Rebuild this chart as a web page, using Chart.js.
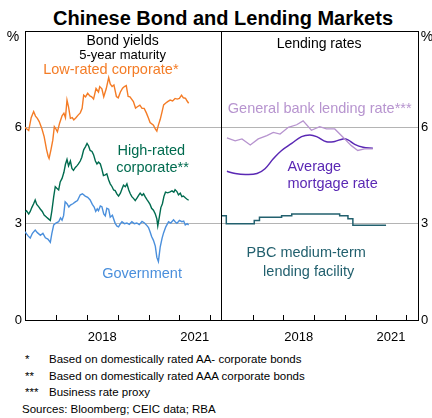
<!DOCTYPE html>
<html>
<head>
<meta charset="utf-8">
<script src="https://cdn.jsdelivr.net/npm/chart.js@4.4.1/dist/chart.umd.min.js"></script>
<style>
  html, body { margin: 0; padding: 0; background: #fff; overflow: hidden; }
  body { width: 432px; height: 418px; position: relative; font-family: "Liberation Sans", Arial, sans-serif; }
  #title { position: absolute; left: 14px; width: 418px; top: 8px; line-height: 20px;
           text-align: center; font-weight: bold; font-size: 20px; color: #000; }
  #left { position: absolute; left: 0; top: 0; }
  #right { position: absolute; left: 222px; top: 0; }
  #notes { position: absolute; left: 22px; top: 351px; font-size: 11.5px; color: #000; }
  #notes div { height: 16.6px; line-height: 16px; white-space: nowrap; }
  #notes span.mark { display: inline-block; width: 27px; padding-left: 3px; box-sizing: border-box; }
</style>
</head>
<body>
<div id="title">Chinese Bond and Lending Markets</div>
<canvas id="left" width="222" height="345"></canvas>
<canvas id="right" width="210" height="345"></canvas>
<div id="notes">
  <div><span class="mark">*</span>Based on domestically rated AA- corporate bonds</div>
  <div><span class="mark">**</span>Based on domestically rated AAA corporate bonds</div>
  <div><span class="mark">***</span>Business rate proxy</div>
  <div>Sources: Bloomberg; CEIC data; RBA</div>
</div>
<script>
// ---- data (decimal years, per cent) ----
const lowRatedDates = [2016.00, 2016.06, 2016.12, 2016.20, 2016.28, 2016.34, 2016.40, 2016.46, 2016.55, 2016.62,
  2016.70, 2016.75, 2016.78, 2016.84, 2016.90, 2016.95, 2017.00, 2017.05, 2017.12, 2017.20,
  2017.26, 2017.31, 2017.36, 2017.41, 2017.47, 2017.53, 2017.58, 2017.65, 2017.72, 2017.79,
  2017.85, 2017.90, 2017.96, 2018.03, 2018.10, 2018.16, 2018.22, 2018.30, 2018.38, 2018.42,
  2018.49, 2018.55, 2018.63, 2018.71, 2018.76, 2018.82, 2018.88, 2018.96, 2019.02, 2019.09,
  2019.16, 2019.22, 2019.28, 2019.34, 2019.40, 2019.51, 2019.58, 2019.64, 2019.72, 2019.79,
  2019.86, 2019.93, 2020.00, 2020.05, 2020.16, 2020.22, 2020.27, 2020.32, 2020.38, 2020.44,
  2020.49, 2020.55, 2020.62, 2020.70, 2020.78, 2020.86, 2020.93, 2021.00, 2021.07, 2021.13,
  2021.20, 2021.25, 2021.30];
const lowRatedYields = [6.00, 5.95, 5.90, 6.30, 6.49, 6.35, 6.28, 6.18, 5.95, 5.71,
  5.30, 5.10, 5.03, 5.30, 5.60, 6.02, 5.95, 5.86, 6.13, 6.36,
  6.44, 6.30, 6.85, 6.64, 6.28, 6.30, 6.23, 6.30, 6.38, 6.45,
  6.59, 7.00, 6.95, 7.06, 6.98, 6.95, 6.88, 7.21, 7.10, 7.27,
  7.20, 6.95, 7.20, 7.55, 7.35, 7.27, 7.32, 6.96, 6.92, 7.10,
  7.22, 7.27, 7.30, 6.96, 6.95, 6.80, 6.60, 6.64, 6.69, 6.59,
  6.59, 6.45, 6.28, 6.15, 6.07, 5.95, 5.88, 6.07, 6.25, 6.49,
  6.70, 6.75, 6.80, 6.85, 6.82, 6.90, 6.88, 6.90, 7.00, 6.92,
  6.90, 6.82, 6.75];

const highRatedDates = [2016.00, 2016.05, 2016.12, 2016.17, 2016.22, 2016.28, 2016.33, 2016.38, 2016.44, 2016.50,
  2016.56, 2016.62, 2016.70, 2016.76, 2016.82, 2016.87, 2016.93, 2016.98, 2017.03, 2017.09,
  2017.14, 2017.20, 2017.26, 2017.31, 2017.36, 2017.41, 2017.47, 2017.52, 2017.57, 2017.63,
  2017.68, 2017.73, 2017.79, 2017.84, 2017.90, 2017.96, 2018.01, 2018.06, 2018.11, 2018.17,
  2018.22, 2018.28, 2018.33, 2018.38, 2018.44, 2018.49, 2018.54, 2018.60, 2018.65, 2018.71,
  2018.76, 2018.82, 2018.87, 2018.92, 2018.98, 2019.03, 2019.09, 2019.14, 2019.19, 2019.25,
  2019.30, 2019.36, 2019.41, 2019.46, 2019.52, 2019.57, 2019.63, 2019.68, 2019.73, 2019.79,
  2019.84, 2019.89, 2019.95, 2020.00, 2020.05, 2020.10, 2020.16, 2020.22, 2020.27, 2020.30,
  2020.35, 2020.40, 2020.45, 2020.50, 2020.55, 2020.62, 2020.70, 2020.76, 2020.82, 2020.86,
  2020.92, 2020.97, 2021.03, 2021.08, 2021.13, 2021.20, 2021.25, 2021.30];
const highRatedYields = [3.36, 3.40, 3.30, 3.38, 3.50, 3.62, 3.74, 3.60, 3.53, 3.45,
  3.38, 3.27, 3.20, 3.15, 3.10, 3.40, 3.84, 4.15, 4.10, 4.05,
  4.30, 4.41, 4.60, 4.85, 5.00, 4.80, 4.95, 4.72, 4.66, 4.75,
  4.80, 4.86, 4.95, 5.07, 5.30, 5.40, 5.50, 5.42, 5.28, 5.25,
  5.15, 4.95, 4.86, 4.92, 4.86, 4.70, 4.50, 4.52, 4.55, 4.36,
  4.24, 4.15, 4.05, 4.03, 3.92, 3.86, 3.95, 4.08, 4.20, 4.15,
  4.24, 4.05, 3.93, 3.84, 3.78, 3.72, 3.80, 3.88, 3.95, 3.88,
  3.93, 3.84, 3.75, 3.68, 3.60, 3.48, 3.42, 3.30, 3.15, 2.93,
  3.20, 3.50, 3.62, 3.85, 3.98, 3.96, 3.99, 4.02, 3.98, 4.06,
  4.00, 3.90, 3.95, 3.84, 3.86, 3.80, 3.76, 3.73];

const govDates = [2016.00, 2016.05, 2016.10, 2016.17, 2016.24, 2016.33, 2016.40, 2016.50, 2016.58, 2016.66,
  2016.74, 2016.82, 2016.87, 2016.93, 2017.00, 2017.09, 2017.15, 2017.20, 2017.25, 2017.30,
  2017.36, 2017.42, 2017.47, 2017.55, 2017.63, 2017.70, 2017.79, 2017.86, 2017.95, 2018.03,
  2018.11, 2018.18, 2018.24, 2018.29, 2018.34, 2018.38, 2018.44, 2018.49, 2018.55, 2018.60,
  2018.65, 2018.71, 2018.76, 2018.83, 2018.92, 2018.98, 2019.03, 2019.09, 2019.14, 2019.22,
  2019.30, 2019.38, 2019.46, 2019.54, 2019.62, 2019.70, 2019.79, 2019.87, 2019.95, 2020.00,
  2020.05, 2020.10, 2020.16, 2020.22, 2020.27, 2020.32, 2020.35, 2020.38, 2020.44, 2020.49,
  2020.56, 2020.65, 2020.72, 2020.81, 2020.87, 2020.92, 2021.00, 2021.08, 2021.14, 2021.19,
  2021.25, 2021.30];
const govYields = [2.75, 2.68, 2.62, 2.55, 2.70, 2.80, 2.72, 2.64, 2.70, 2.56,
  2.52, 2.42, 2.70, 2.96, 3.02, 3.06, 3.18, 3.11, 3.25, 3.68,
  3.62, 3.52, 3.58, 3.62, 3.68, 3.72, 3.90, 3.93, 3.86, 3.82,
  3.74, 3.60, 3.52, 3.38, 3.46, 3.40, 3.55, 3.53, 3.30, 3.24,
  3.48, 3.45, 3.20, 3.26, 3.01, 2.92, 2.90, 3.00, 3.06, 3.00,
  3.02, 2.98, 3.06, 3.00, 3.02, 2.97, 3.07, 3.02, 2.94, 2.88,
  2.75, 2.60, 2.48, 2.30, 1.95, 1.82, 2.05, 2.28, 2.55, 2.72,
  2.90, 3.06, 3.02, 3.12, 3.05, 3.01, 3.10, 3.06, 3.08, 2.96,
  3.00, 2.96];

const bankLendDates = [2016.16, 2016.43, 2016.65, 2016.92, 2017.18, 2017.46, 2017.67, 2017.89, 2018.16, 2018.43,
  2018.64, 2018.91, 2019.18, 2019.40, 2019.67, 2019.94, 2020.21, 2020.42, 2020.64, 2020.91];
const bankLendRates = [5.67, 5.58, 5.64, 5.45, 5.64, 5.74, 5.84, 5.79, 6.00, 6.08,
  6.20, 5.91, 6.02, 5.95, 5.95, 5.69, 5.43, 5.28, 5.33, 5.33];

const mortgageDates = [2016.16, 2016.43, 2016.76, 2017.14, 2017.40, 2017.67, 2017.94, 2018.27, 2018.59, 2018.86,
  2019.08, 2019.40, 2019.67, 2019.94, 2020.10, 2020.32, 2020.59, 2020.91];
const mortgageRates = [4.63, 4.56, 4.53, 4.56, 4.71, 5.02, 5.28, 5.50, 5.71, 5.76,
  5.71, 5.55, 5.56, 5.64, 5.61, 5.47, 5.38, 5.35];

const mlfDates = [2016.00, 2016.14, 2017.05, 2017.22, 2017.94, 2018.27, 2019.83, 2020.10, 2020.26, 2021.34];
const mlfRates = [3.25, 3.00, 3.10, 3.20, 3.25, 3.30, 3.25, 3.15, 2.95, 2.95];

const yearTicks = [2017, 2018, 2019, 2020, 2021, 2022];
const yearLabels = [2018, 2021];
const yTicks = [0, 3, 6, 9];

// ---- style ----
const FONT = '"Liberation Sans", Arial, sans-serif';
const ORANGE = '#f47c26';
const GREEN = '#006b4f';
const BLUE = '#4a8fdc';
const LILAC = '#b794cf';
const PURPLE = '#5a28b4';
const TEAL = '#22606e';
const GRID = '#b4b4b4';

Chart.defaults.font.family = FONT;
Chart.defaults.color = '#000';

const toPoints = (xs, ys) => xs.map((x, i) => ({ x, y: ys[i] }));

// frame, inward year ticks, "%" and text labels placed in data coordinates
const panelDecor = {
  id: 'panelDecor',
  afterDraw(chart, args, opts) {
    const { ctx, chartArea: a, scales: { x, y } } = chart;
    ctx.save();
    ctx.strokeStyle = '#000';
    ctx.lineWidth = 1;
    ctx.beginPath();
    ctx.moveTo(a.left, a.top + 0.5);
    ctx.lineTo(a.right, a.top + 0.5);
    if (opts.rightEdge) {
      ctx.moveTo(a.right - 0.5, a.top);
      ctx.lineTo(a.right - 0.5, a.bottom);
    }
    yearTicks.forEach(t => {
      const px = Math.round(x.getPixelForValue(t)) + 0.5;
      ctx.moveTo(px, a.bottom);
      ctx.lineTo(px, a.bottom - 5);
    });
    ctx.stroke();

    ctx.font = '14px ' + FONT;
    ctx.fillStyle = '#000';
    ctx.textBaseline = 'middle';
    ctx.textAlign = 'center';
    const pctX = opts.rightEdge ? a.left - 12 : a.right + 9;
    ctx.fillText('%', pctX, a.top + 6);

    opts.labels.forEach(l => {
      ctx.font = (l.size || 14.5) + 'px ' + FONT;
      ctx.fillStyle = l.color;
      ctx.textAlign = l.align || 'center';
      ctx.fillText(l.text, x.getPixelForValue(l.x), y.getPixelForValue(l.y));
    });
    ctx.restore();
  }
};

function makeOptions(side, labels) {
  const isLeft = side === 'left';
  return {
    responsive: false,
    animation: false,
    devicePixelRatio: 1,
    layout: { padding: { top: 31, left: 0, right: 0, bottom: 0 } },
    elements: { point: { radius: 0 }, line: { tension: 0, borderWidth: 1.5 } },
    plugins: {
      legend: { display: false },
      tooltip: { enabled: false },
      panelDecor: { rightEdge: isLeft, labels }
    },
    scales: {
      x: {
        type: 'linear',
        min: 2016,
        max: 2022.38,
        grid: { display: false },
        border: { display: true, color: '#000', width: 1 },
        afterFit: s => { s.height = 25; },
        afterBuildTicks: s => { s.ticks = yearLabels.map(v => ({ value: v + 0.5 })); },
        ticks: {
          autoSkip: false,
          maxRotation: 0,
          padding: 2,
          font: { size: 13 },
          color: '#000',
          callback: v => String(Math.round(v - 0.5))
        }
      },
      y: {
        position: isLeft ? 'left' : 'right',
        min: 0,
        max: 9,
        afterFit: s => { s.width = isLeft ? 25 : 14; },
        afterBuildTicks: s => { s.ticks = yTicks.map(v => ({ value: v })); },
        grid: {
          drawTicks: false,
          color: c => (c.tick && (c.tick.value === 3 || c.tick.value === 6)) ? GRID : 'rgba(0,0,0,0)',
          lineWidth: 1
        },
        border: { display: true, color: '#000', width: 1 },
        ticks: {
          padding: 3,
          font: { size: 13 },
          color: '#000',
          callback: v => (v === 9 ? '' : String(v))
        }
      }
    }
  };
}

new Chart(document.getElementById('left'), {
  type: 'line',
  data: {
    datasets: [
      { data: toPoints(lowRatedDates, lowRatedYields), borderColor: ORANGE, borderWidth: 1.4 },
      { data: toPoints(highRatedDates, highRatedYields), borderColor: GREEN, borderWidth: 1.4 },
      { data: toPoints(govDates, govYields), borderColor: BLUE, borderWidth: 1.4 }
    ]
  },
  options: makeOptions('left', [
    { text: 'Bond yields', x: 2019.16, y: 8.69, color: '#000', size: 14 },
    { text: '5-year maturity', x: 2019.16, y: 8.24, color: '#000', size: 13 },
    { text: 'Low-rated corporate*', x: 2018.78, y: 7.77, color: ORANGE },
    { text: 'High-rated', x: 2020.09, y: 5.25, color: GREEN },
    { text: 'corporate**', x: 2020.13, y: 4.72, color: GREEN },
    { text: 'Government', x: 2019.79, y: 1.44, color: BLUE }
  ]),
  plugins: [panelDecor]
});

new Chart(document.getElementById('right'), {
  type: 'line',
  data: {
    datasets: [
      { data: toPoints(bankLendDates, bankLendRates), borderColor: LILAC, borderWidth: 1.3 },
      { data: toPoints(mortgageDates, mortgageRates), borderColor: PURPLE, borderWidth: 1.5, tension: 0.4 },
      { data: toPoints(mlfDates, mlfRates), borderColor: TEAL, borderWidth: 1.5, stepped: 'before' }
    ]
  },
  options: makeOptions('right', [
    { text: 'Lending rates', x: 2019.16, y: 8.58, color: '#000', size: 14 },
    { text: 'General bank lending rate***', x: 2019.18, y: 6.56, color: LILAC },
    { text: 'Average', x: 2018.13, y: 4.76, color: PURPLE, align: 'left' },
    { text: 'mortgage rate', x: 2018.13, y: 4.22, color: PURPLE, align: 'left' },
    { text: 'PBC medium-term', x: 2018.74, y: 2.09, color: TEAL },
    { text: 'lending facility', x: 2018.82, y: 1.51, color: TEAL }
  ]),
  plugins: [panelDecor]
});
</script>
</body>
</html>
